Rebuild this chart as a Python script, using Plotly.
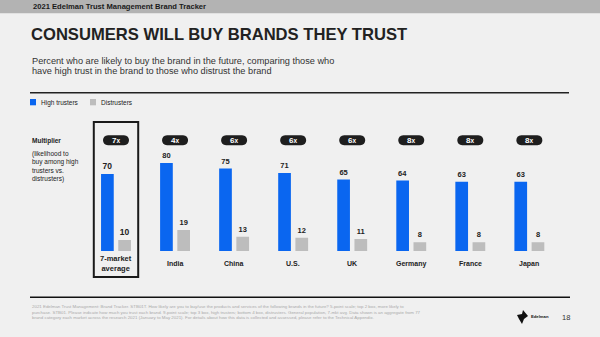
import plotly.graph_objects as go

# ---- data ----
categories = ["7-market<br>average", "India", "China", "U.S.", "UK", "Germany", "France", "Japan"]
high_trusters = [70, 80, 75, 71, 65, 64, 63, 63]
distrusters = [10, 19, 13, 12, 11, 8, 8, 8]
multipliers = [7, 4, 6, 6, 6, 8, 8, 8]
series_names = ["High trusters", "Distrusters"]

BLUE = "#0a66f0"
GRAY = "#bdbdbd"
DARK = "#222222"
BG = "#f0f0f0"
FONT = "Liberation Sans, Arial, sans-serif"

W, H = 600, 337
def px(x):
    return x / W
def py(y):
    return 1 - y / H

idx = list(range(len(categories)))
label_sizes = [8.5] + [7.5] * (len(categories) - 1)

fig = go.Figure()
fig.add_trace(go.Bar(
    x=idx, y=high_trusters, name=series_names[0], marker=dict(color=BLUE, line=dict(width=0)),
    text=[str(v) for v in high_trusters], textposition="outside", constraintext="none",
    outsidetextfont=dict(family=FONT, size=label_sizes, color=DARK, weight="bold"),
    cliponaxis=False, showlegend=False, hoverinfo="skip"))
fig.add_trace(go.Bar(
    x=idx, y=distrusters, name=series_names[1], marker=dict(color=GRAY, line=dict(width=0)),
    text=[str(v) for v in distrusters], textposition="outside", constraintext="none",
    outsidetextfont=dict(family=FONT, size=label_sizes, color=DARK, weight="bold"),
    cliponaxis=False, showlegend=False, hoverinfo="skip"))

# axis geometry: category centers ~116px + 59.05px steps, baseline at y=251px, 1.1px/unit
step = 59.05
x_left = 116 - step / 2
x_right = x_left + step * len(categories)
shapes = []
annotations = []

# header bar
shapes.append(dict(type="rect", xref="paper", yref="paper", x0=0, x1=1, y0=py(13.3), y1=1,
                   fillcolor="#b3b3b3", line=dict(width=0), layer="below"))
annotations.append(dict(text="2021 Edelman Trust Management Brand Tracker", xref="paper", yref="paper",
                        x=px(31), y=py(6.8), xanchor="left", yanchor="middle", showarrow=False,
                        font=dict(family=FONT, size=7.6, color="#1a1a1a", weight="bold")))
# title
annotations.append(dict(text="CONSUMERS WILL BUY BRANDS THEY TRUST", xref="paper", yref="paper",
                        x=px(29), y=py(34), xanchor="left", yanchor="middle", showarrow=False,
                        font=dict(family=FONT, size=16.6, color=DARK, weight="bold")))
# subtitle
for t, yy in [("Percent who are likely to buy the brand in the future, comparing those who", 60.5),
              ("have high trust in the brand to those who distrust the brand", 71.5)]:
    annotations.append(dict(text=t, xref="paper", yref="paper", x=px(29.5), y=py(yy),
                            xanchor="left", yanchor="middle", showarrow=False,
                            font=dict(family=FONT, size=9.2, color="#333333")))
# top rule
shapes.append(dict(type="line", xref="paper", yref="paper", x0=px(30), x1=px(569), y0=py(92.7), y1=py(92.7),
                   line=dict(color="#222222", width=1.4)))
# legend
for (x0, c, name) in [(30, BLUE, series_names[0]), (90, GRAY, series_names[1])]:
    shapes.append(dict(type="rect", xref="paper", yref="paper", x0=px(x0), x1=px(x0 + 6),
                       y0=py(105.3), y1=py(99), fillcolor=c, line=dict(width=0)))
    annotations.append(dict(text=name, xref="paper", yref="paper", x=px(x0 + 8.5), y=py(102.5),
                            xanchor="left", yanchor="middle", showarrow=False,
                            font=dict(family=FONT, size=6.5, color="#222222")))
# multiplier explanation
annotations.append(dict(text="Multiplier", xref="paper", yref="paper", x=px(29.5), y=py(141),
                        xanchor="left", yanchor="middle", showarrow=False,
                        font=dict(family=FONT, size=6.5, color="#222222", weight="bold")))
annotations.append(dict(text="(likelihood to<br>buy among high<br>trusters vs.<br>distrusters)",
                        xref="paper", yref="paper", x=px(29.5), y=py(148.5), xanchor="left", yanchor="top",
                        align="left", showarrow=False,
                        font=dict(family=FONT, size=6.5, color="#222222")))
# highlight box for 7-market average
half_box = 22.2 / step
shapes.append(dict(type="rect", xref="x", yref="paper", x0=-half_box, x1=half_box,
                   y0=py(277), y1=py(122), line=dict(color="#1a1a1a", width=2), fillcolor="rgba(0,0,0,0)"))
# pills with multipliers
pill_path = ("M -8,-5 L 8,-5 C 14.7,-5 14.7,5 8,5 L -8,5 C -14.7,5 -14.7,-5 -8,-5 Z")
for i, m in zip(idx, multipliers):
    shapes.append(dict(type="path", xref="x", yref="paper", xsizemode="pixel", ysizemode="pixel",
                       xanchor=i, yanchor=py(140.2), path=pill_path, fillcolor="#1e1e1e", line=dict(width=0)))
    annotations.append(dict(text=f"{m}<span style='font-size:6.5px'>x</span>", xref="x", yref="paper",
                            x=i, y=py(140.6), xanchor="center", yanchor="middle", showarrow=False,
                            font=dict(family=FONT, size=8, color="white", weight="bold")))
# category labels
for i, c in zip(idx, categories):
    annotations.append(dict(text=c, xref="x", yref="paper", x=i, y=py(263.5), xanchor="center",
                            yanchor="middle", showarrow=False, align="center",
                            font=dict(family=FONT, size=7.5 if i == 0 else 7, color="#222222", weight="bold")))
# bottom rule
shapes.append(dict(type="line", xref="paper", yref="paper", x0=px(30), x1=px(570), y0=py(297.3), y1=py(297.3),
                   line=dict(color="#111111", width=1.4)))
# footnote
foot = ("2021 Edelman Trust Management: Brand Tracker. STB01T. How likely are you to buy/use the products and services of the following brands in the future? 5-point scale; top 2 box, more likely to<br>"
        "purchase. STB01. Please indicate how much you trust each brand. 9-point scale; top 3 box, high trusters; bottom 4 box, distrusters. General population, 7-mkt avg. Data shown is an aggregate from 77<br>"
        "brand category each market across the research 2021 (January to May 2021). For details about how this data is collected and assessed, please refer to the Technical Appendix.")
annotations.append(dict(text=foot, xref="paper", yref="paper", x=px(30), y=py(302), xanchor="left",
                        yanchor="top", align="left", showarrow=False,
                        font=dict(family=FONT, size=4.4, color="#aaaaaa")))
# logo mark
shapes.append(dict(type="path", xref="paper", yref="paper",
                   path=f"M {px(517)},{py(315)} L {px(522)},{py(314)} L {px(523)},{py(310)} L {px(528)},{py(316)} "
                        f"L {px(524)},{py(319)} L {px(522)},{py(324)} L {px(519)},{py(319)} Z",
                   fillcolor="#111111", line=dict(width=0)))
annotations.append(dict(text="Edelman", xref="paper", yref="paper", x=px(528.5), y=py(316.5), xanchor="left",
                        yanchor="middle", showarrow=False,
                        font=dict(family=FONT, size=4.2, color="#111111", weight="bold")))
annotations.append(dict(text="18", xref="paper", yref="paper", x=px(566), y=py(317.5), xanchor="center",
                        yanchor="middle", showarrow=False,
                        font=dict(family=FONT, size=7.5, color="#333333")))

fig.update_layout(
    width=W, height=H, margin=dict(l=0, r=0, t=0, b=0),
    paper_bgcolor=BG, plot_bgcolor=BG,
    barmode="group", bargap=0.417, bargroupgap=0.262,
    showlegend=False,
    xaxis=dict(domain=[px(x_left), px(x_right)], range=[-0.5, len(categories) - 0.5],
               showticklabels=False, showgrid=False, zeroline=False, showline=False, ticks="",
               fixedrange=True),
    yaxis=dict(domain=[py(251), py(141)], range=[0, 100], showticklabels=False, showgrid=False,
               zeroline=False, showline=False, ticks="", fixedrange=True),
    shapes=shapes, annotations=annotations,
    font=dict(family=FONT),
)
fig.write_html("out.html", config={"displayModeBar": False})
